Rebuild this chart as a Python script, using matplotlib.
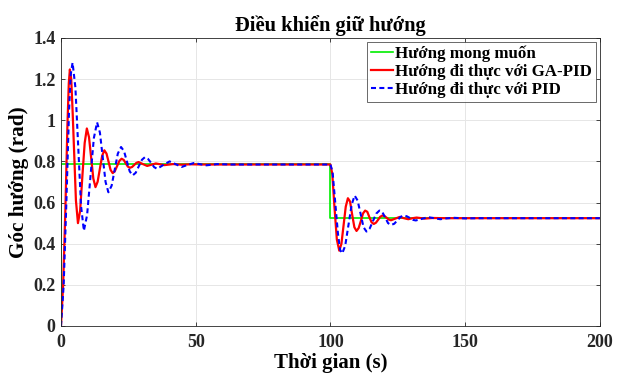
import matplotlib
matplotlib.use("Agg")
import matplotlib.pyplot as plt

plt.rcParams['font.family'] = ['Liberation Serif', 'DejaVu Serif']
plt.rcParams['font.weight'] = 'bold'

# Desired heading (rad)
t_ref = [0, 0, 100, 100, 200]
y_ref = [0, 0.785, 0.785, 0.524, 0.524]

# Actual heading with GA-PID
t_ga = [0, 0.8, 1.6, 2.4, 2.9, 3.3, 3.8, 4.3, 4.8, 5.55, 6.3,
        7.1, 7.95, 8.8, 9.6, 10.4, 11.2, 12.0, 12.8,
        13.6, 14.45, 15.3, 16.1, 16.9, 17.65, 18.4, 19.2,
        20.0, 20.85, 21.7, 22.5, 23.3, 24.05, 24.8, 25.6,
        26.4, 27.2, 28.0, 28.8, 30.4, 32.0, 33.6, 35.2,
        38.4, 41.6, 44.8, 48.0, 52.0,
        100.0, 100.7, 101.5, 102.4, 103.3, 104.1, 104.9, 105.7, 106.5,
        107.3, 108.1, 108.9, 109.7, 110.5, 111.3, 112.1, 112.9,
        113.7, 114.5, 115.3, 116.1, 116.9, 117.7, 118.5, 119.3,
        120.1, 120.9, 121.7, 122.5, 124.1, 125.7, 127.3, 128.9,
        130.5, 132.0, 135.0, 138.0, 142.0, 200.0]
y_ga = [0, 0.2, 0.55, 0.98, 1.18, 1.247, 1.2, 1.05, 0.874, 0.61, 0.50,
        0.56, 0.73, 0.89, 0.96, 0.918, 0.818, 0.717, 0.675,
        0.701, 0.765, 0.828, 0.854, 0.838, 0.799, 0.759, 0.743,
        0.753, 0.778, 0.803, 0.813, 0.807, 0.791, 0.775, 0.769,
        0.773, 0.783, 0.793, 0.797, 0.787, 0.778, 0.784, 0.790,
        0.782, 0.787, 0.784, 0.786, 0.785,
        0.785, 0.74, 0.58, 0.42, 0.366, 0.40, 0.49, 0.58, 0.621,
        0.605, 0.54, 0.48, 0.462, 0.476, 0.51, 0.547, 0.561,
        0.555, 0.528, 0.504, 0.496, 0.502, 0.516, 0.531, 0.537,
        0.534, 0.526, 0.517, 0.514, 0.522, 0.530, 0.524, 0.519,
        0.524, 0.527, 0.522, 0.525, 0.524, 0.524]

# Actual heading with PID
t_pid = [0, 1.0, 2.0, 3.0, 3.6, 4.3, 5.35, 6.4, 7.45, 8.5,
         9.7, 10.95, 12.2, 13.4, 14.45, 15.5, 16.55, 17.6,
         18.8, 19.95, 21.1, 22.3, 23.4, 24.45, 25.5, 26.6,
         27.75, 28.9, 30.05, 31.2, 32.3, 33.45, 34.6, 35.7,
         37.9, 40.3, 42.5, 44.8, 47.0, 49.3, 54.0, 58.0, 63.0,
         100.0, 100.8, 101.8, 102.8, 103.6, 104.4, 105.5, 106.7, 107.9, 109.0,
         110.1, 111.2, 112.3, 113.4, 114.6, 115.8, 117.0, 118.2,
         119.3, 120.4, 121.4, 122.5, 123.7, 124.9, 126.1, 127.3,
         128.4, 129.5, 130.6, 131.7, 134.0, 136.3, 138.5, 140.8,
         143.0, 145.5, 150.0, 155.0, 200.0]
y_pid = [0, 0.2, 0.6, 1.05, 1.22, 1.28, 1.16, 0.872, 0.583, 0.463,
         0.54, 0.727, 0.913, 0.99, 0.94, 0.82, 0.70, 0.65,
         0.682, 0.76, 0.838, 0.87, 0.85, 0.801, 0.752, 0.732,
         0.745, 0.777, 0.808, 0.821, 0.812, 0.793, 0.772, 0.764,
         0.782, 0.80, 0.787, 0.773, 0.783, 0.792, 0.781, 0.787, 0.785,
         0.785, 0.75, 0.60, 0.45, 0.37, 0.353, 0.39, 0.49, 0.59, 0.634,
         0.61, 0.546, 0.48, 0.459, 0.474, 0.51, 0.546, 0.561,
         0.553, 0.526, 0.50, 0.491, 0.497, 0.514, 0.531, 0.537,
         0.533, 0.525, 0.516, 0.513, 0.521, 0.529, 0.524, 0.519,
         0.523, 0.526, 0.523, 0.524, 0.524]

x_ticks = [0, 50, 100, 150, 200]
y_ticks = [0, 0.2, 0.4, 0.6, 0.8, 1.0, 1.2, 1.4]
y_tick_labels = ['0', '0.2', '0.4', '0.6', '0.8', '1', '1.2', '1.4']

labels = ['Hướng mong muốn', 'Hướng đi thực với GA-PID', 'Hướng đi thực với PID']
title = 'Điều khiển giữ hướng'
xlabel = 'Thời gian (s)'
ylabel = 'Góc hướng (rad)'

fig = plt.figure(figsize=(6.28, 3.76), dpi=100)
ax = fig.add_axes([0.0971, 0.1330, 0.858, 0.766])

ax.plot(t_ref, y_ref, color='#00ee00', lw=1.2, label=labels[0])
ax.plot(t_ga, y_ga, color='#ff0000', lw=1.6, label=labels[1])
ax.plot(t_pid, y_pid, color='#0000ff', lw=1.5, ls=(0, (2.4, 1.6)), label=labels[2])

ax.set_xlim(0, 200)
ax.set_ylim(0, 1.4)
ax.set_xticks(x_ticks)
ax.set_yticks(y_ticks)
ax.set_yticklabels(y_tick_labels)
ax.tick_params(direction='in', length=3, width=0.6, labelsize=13, colors='#262626',
               top=True, right=True)
ax.tick_params(axis='x', pad=6)
ax.tick_params(axis='y', pad=4)
for lab in ax.get_xticklabels() + ax.get_yticklabels():
    lab.set_fontweight('bold')
    lab.set_color('#262626')
for s in ax.spines.values():
    s.set_color('#262626')
    s.set_linewidth(0.6)
ax.grid(True, color='#e6e6e6', lw=0.7)
ax.set_axisbelow(True)

ax.set_title(title, fontsize=14.8, fontweight='bold', pad=5)
ax.set_xlabel(xlabel, fontsize=15, fontweight='bold', labelpad=1)
ax.set_ylabel(ylabel, fontsize=15.3, fontweight='bold', labelpad=3)

leg = ax.legend(loc='upper right', frameon=True, fancybox=False,
                handlelength=1.3, handletextpad=0.15, borderpad=0.2, labelspacing=0.12,
                borderaxespad=0.25, prop={'weight': 'bold', 'size': 12.2})
leg.get_frame().set_edgecolor('#262626')
leg.get_frame().set_linewidth(0.6)

fig.savefig('out.png', dpi=100)
